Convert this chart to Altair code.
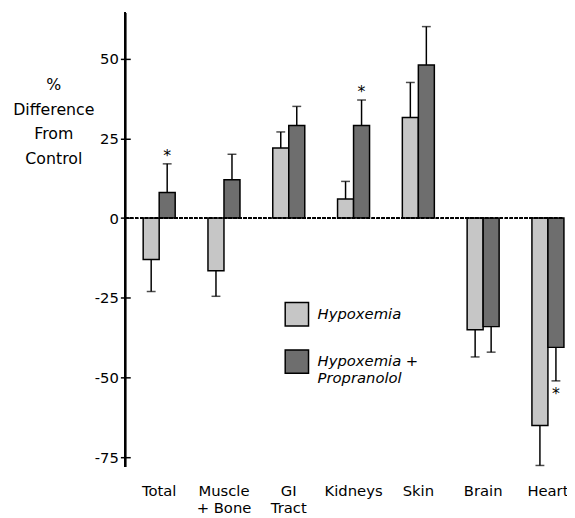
import altair as alt
import pandas as pd

organs = ["Total", "Muscle\n+ Bone", "GI\nTract", "Kidneys", "Skin", "Brain", "Heart"]
groups = ["Hypoxemia", "Hypoxemia +\nPropranolol"]

hypox = [-13, -16.5, 22, 6, 31.5, -35, -65]
hypox_err = [10, 8, 5, 5.5, 11, 8.5, 12.5]
hypox_sig = [False, False, False, False, False, False, False]

prop = [8, 12, 29, 29, 48, -34, -40.5]
prop_err = [9, 8, 6, 8, 12, 8, 10.5]
prop_sig = [True, False, False, True, False, False, True]

y_ticks = [-75, -50, -25, 0, 25, 50]
y_domain = [-78, 64.4]

rows = []
for i, o in enumerate(organs):
    for g, vals, errs, sig in [(groups[0], hypox, hypox_err, hypox_sig),
                               (groups[1], prop, prop_err, prop_sig)]:
        v = vals[i]
        e = errs[i]
        end = v + e if v >= 0 else v - e
        rows.append(dict(organ=o, group=g, value=v, end=end,
                         star="*" if sig[i] else "", up=bool(v >= 0)))
df = pd.DataFrame(rows)

W, H = 443, 461
FONT = "DejaVu Sans"

xscale = alt.Scale(range=[3, 460], paddingInner=0.506, paddingOuter=0.23)
yscale = alt.Scale(domain=y_domain, nice=False, zero=False)

x_axis = alt.Axis(title=None, domain=False, ticks=False, labelAngle=0, labelPadding=17,
                  labelFontSize=15, labelColor="black", labelBaseline="top",
                  labelExpr="split(datum.label, '\\n')", labelLineHeight=17)
y_axis = alt.Axis(values=y_ticks, domain=False, grid=False, tickSize=10, offset=-5,
                  tickWidth=1.5, tickColor="black", labelFontSize=15, labelColor="black",
                  labelPadding=2, labelExpr="'' + datum.value",
                  title=["%", "Difference", "From", "Control"], titleAngle=0,
                  titleX=-78, titleY=65, titleAlign="center", titleBaseline="top",
                  titleFontSize=16, titleFontWeight="normal", titleColor="black",
                  titleLineHeight=25)

base = alt.Chart(df)
X = alt.X("organ:N", sort=organs, scale=xscale, axis=x_axis)
Xn = alt.X("organ:N", sort=organs, scale=xscale)
XO = alt.XOffset("group:N", sort=groups, scale=alt.Scale(paddingInner=0, paddingOuter=0))

bars = base.mark_bar(stroke="black", strokeWidth=1.5).encode(
    x=X, xOffset=XO,
    y=alt.Y("value:Q", scale=yscale, axis=y_axis),
    y2=alt.datum(0),
    fill=alt.Fill("group:N", sort=groups,
                  scale=alt.Scale(domain=groups, range=["#c6c6c6", "#6e6e6e"]),
                  legend=alt.Legend(title=None, orient="none", legendX=161, legendY=293,
                                    symbolType="square", symbolSize=560,
                                    symbolStrokeColor="black", symbolStrokeWidth=1.5,
                                    labelFontSize=15, labelFontStyle="italic",
                                    labelColor="black", labelOffset=8, rowPadding=18,
                                    labelLimit=250,
                                    labelExpr="split(datum.label, '\\n')")),
)

err = base.mark_rule(color="black", strokeWidth=1.5).encode(
    x=Xn, xOffset=XO,
    y=alt.Y("value:Q", scale=yscale),
    y2="end:Q",
)

caps = base.mark_tick(color="black", thickness=1.5, size=9, orient="horizontal").encode(
    x=Xn, xOffset=XO,
    y=alt.Y("end:Q", scale=yscale),
)

stars_up = base.transform_filter("datum.up && datum.star != ''").mark_text(
    fontSize=16, dy=-8, baseline="middle", color="black").encode(
    x=Xn, xOffset=XO, y=alt.Y("end:Q", scale=yscale), text="star:N")

stars_dn = base.transform_filter("!datum.up && datum.star != ''").mark_text(
    fontSize=16, dy=13, baseline="middle", color="black").encode(
    x=Xn, xOffset=XO, y=alt.Y("end:Q", scale=yscale), text="star:N")

zero = base.mark_rule(color="black", strokeWidth=1, strokeDash=[3, 2]).encode(
    y=alt.datum(0))

yline = base.mark_rule(color="black", strokeWidth=1.5).encode(
    x=alt.value(0), y=alt.value(0), y2=alt.value(H))

chart = alt.layer(bars, zero, yline, err, caps, stars_up, stars_dn).properties(
    width=W, height=H,
    autosize=alt.AutoSizeParams(type="none"),
    padding={"left": 119, "top": 1, "right": 5, "bottom": 45},
).configure(font=FONT).configure_view(stroke=None)

chart.save("out.html", embed_options={"renderer": "svg", "actions": False})
